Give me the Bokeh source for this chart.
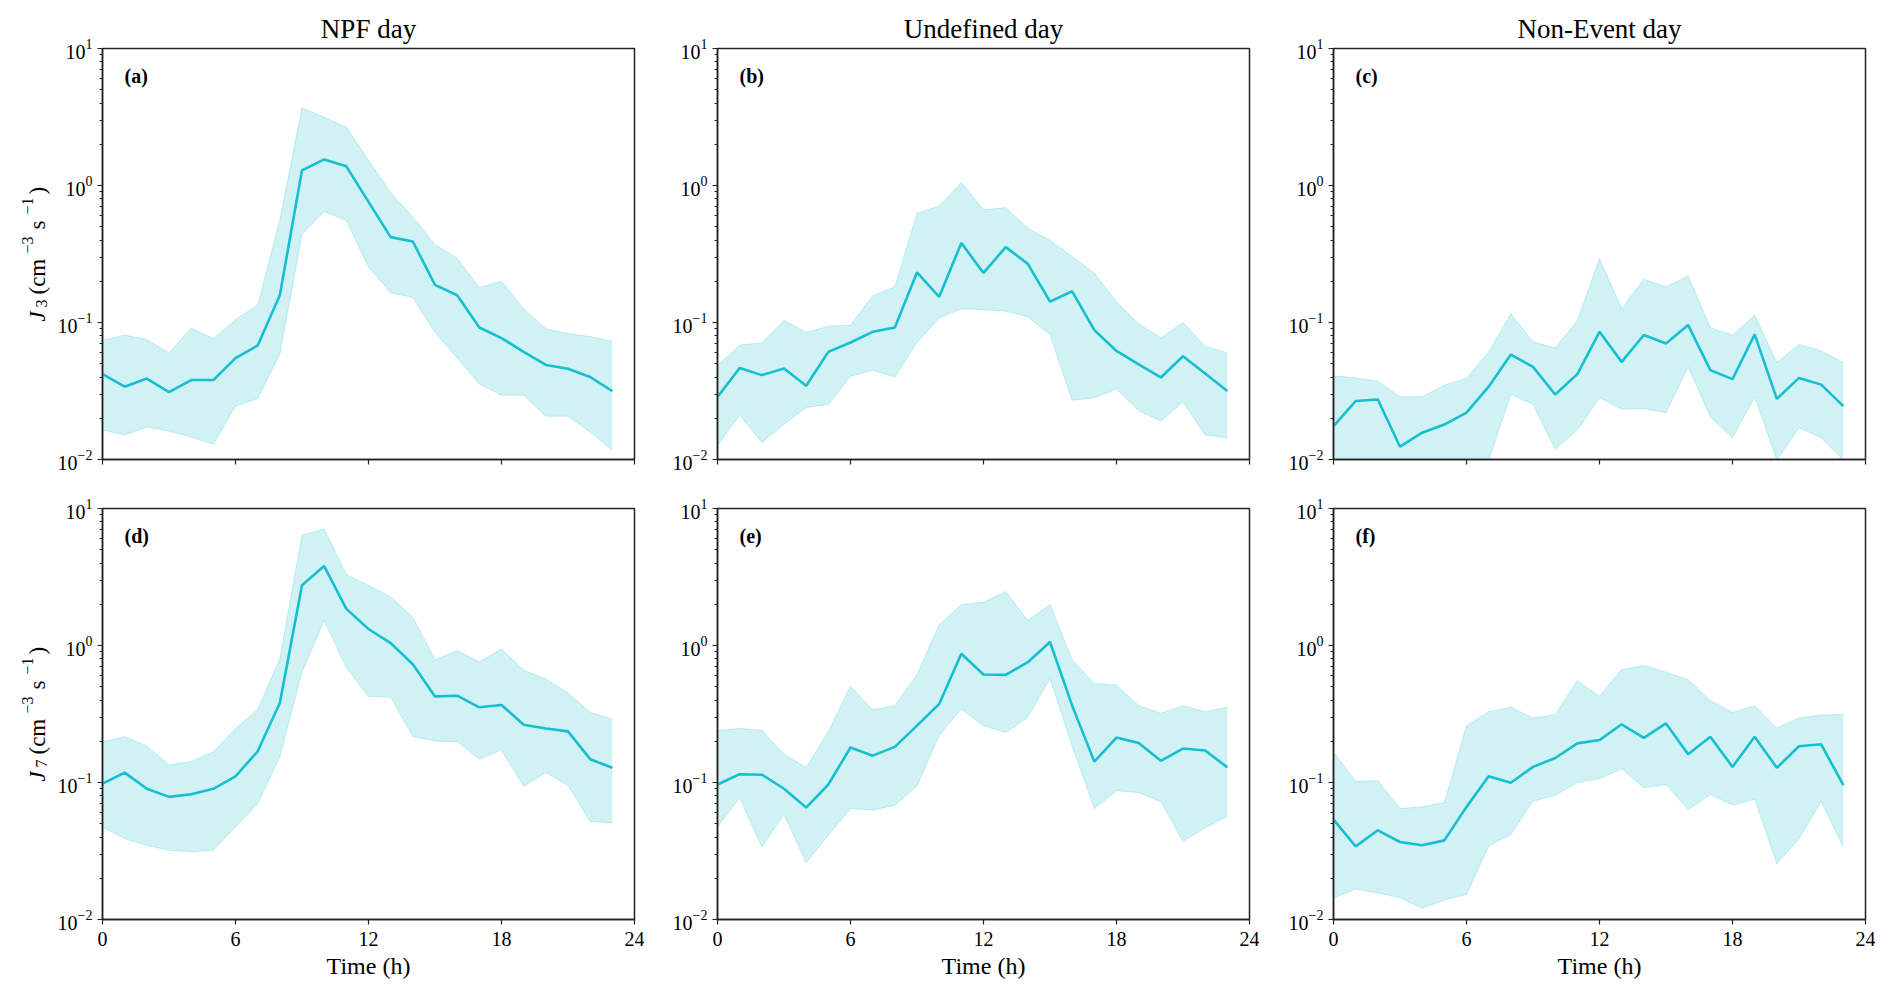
import math
from bokeh.plotting import figure
from bokeh.layouts import column, row
from bokeh.models import LogTicker, FixedTicker, Label, Range1d, ColumnDataSource
from bokeh.embed import file_html
from bokeh.resources import INLINE

hours = list(range(24))
titles = ["NPF day", "Undefined day", "Non-Event day"]
panel_tags = ["(a)", "(b)", "(c)", "(d)", "(e)", "(f)"]
y_label_subscripts = ["3", "7"]
x_label = "Time (h)"
x_ticks = [0, 6, 12, 18, 24]

# J3 rows
j3_npf_mean = [0.042, 0.034, 0.039, 0.031, 0.038, 0.038, 0.055, 0.068, 0.158, 1.29, 1.55, 1.38,
               0.76, 0.42, 0.39, 0.188, 0.158, 0.092, 0.077, 0.061, 0.049, 0.046, 0.040, 0.0316]
j3_npf_upper = [0.074, 0.081, 0.075, 0.060, 0.091, 0.076, 0.105, 0.134, 0.56, 3.69, 3.15, 2.67,
                1.52, 0.89, 0.59, 0.37, 0.295, 0.18, 0.20, 0.126, 0.090, 0.083, 0.079, 0.073]
j3_npf_lower = [0.0164, 0.0151, 0.0173, 0.0161, 0.0146, 0.0129, 0.0245, 0.0279, 0.059, 0.44, 0.645, 0.556,
                0.254, 0.165, 0.152, 0.085, 0.055, 0.0355, 0.0295, 0.0295, 0.0207, 0.0207, 0.0159, 0.0117]

j3_und_mean = [0.0286, 0.0466, 0.0413, 0.0462, 0.0345, 0.061, 0.0715, 0.0855, 0.092, 0.232, 0.154, 0.38,
               0.23, 0.355, 0.268, 0.142, 0.169, 0.088, 0.062, 0.0494, 0.0397, 0.0567, 0.0425, 0.0316]
j3_und_upper = [0.0483, 0.0684, 0.071, 0.104, 0.0845, 0.094, 0.0955, 0.157, 0.182, 0.628, 0.71, 1.05,
                0.664, 0.69, 0.488, 0.397, 0.303, 0.23, 0.142, 0.098, 0.0773, 0.100, 0.0672, 0.060]
j3_und_lower = [0.0127, 0.0211, 0.0133, 0.0181, 0.024, 0.0252, 0.0406, 0.0449, 0.040, 0.0715, 0.108, 0.126,
                0.124, 0.121, 0.110, 0.081, 0.0271, 0.0282, 0.0326, 0.0227, 0.0191, 0.0263, 0.0151, 0.0144]

j3_non_mean = [0.0175, 0.0267, 0.0274, 0.0124, 0.0157, 0.018, 0.022, 0.034, 0.0583, 0.0474, 0.0298, 0.042,
               0.0855, 0.0516, 0.081, 0.0703, 0.0957, 0.0449, 0.0386, 0.082, 0.0277, 0.0394, 0.0352, 0.0245]
j3_non_upper = [0.0408, 0.0394, 0.0373, 0.0287, 0.0287, 0.0349, 0.039, 0.061, 0.116, 0.0723, 0.0653, 0.103,
                0.293, 0.126, 0.207, 0.182, 0.219, 0.0914, 0.081, 0.113, 0.0508, 0.0695, 0.062, 0.051]
j3_non_lower = [0.008, 0.008, 0.008, 0.008, 0.008, 0.008, 0.008, 0.0098, 0.0298, 0.0253, 0.0119, 0.0164,
                0.0282, 0.0233, 0.0235, 0.0219, 0.0474, 0.0205, 0.0144, 0.0286, 0.0099, 0.0171, 0.0144, 0.0099]

# J7 rows
j7_npf_mean = [0.098, 0.118, 0.090, 0.0785, 0.082, 0.090, 0.111, 0.169, 0.38, 2.75, 3.8, 1.85,
               1.32, 1.04, 0.73, 0.425, 0.43, 0.354, 0.368, 0.264, 0.248, 0.236, 0.148, 0.128]
j7_npf_upper = [0.198, 0.216, 0.185, 0.135, 0.142, 0.168, 0.248, 0.34, 0.80, 6.4, 7.1, 3.29,
                2.75, 2.26, 1.61, 0.785, 0.92, 0.76, 0.945, 0.66, 0.57, 0.45, 0.325, 0.29]
j7_npf_lower = [0.0474, 0.0389, 0.0348, 0.032, 0.0311, 0.032, 0.0474, 0.070, 0.154, 0.64, 1.52, 0.69,
                0.425, 0.42, 0.217, 0.20, 0.199, 0.148, 0.172, 0.094, 0.118, 0.095, 0.052, 0.0507]

j7_und_mean = [0.0967, 0.115, 0.114, 0.090, 0.0656, 0.0967, 0.18, 0.157, 0.182, 0.26, 0.374, 0.87,
               0.614, 0.61, 0.755, 1.06, 0.364, 0.142, 0.213, 0.194, 0.144, 0.177, 0.171, 0.129]
j7_und_upper = [0.239, 0.248, 0.241, 0.161, 0.129, 0.236, 0.504, 0.34, 0.364, 0.614, 1.42, 1.99,
                2.07, 2.48, 1.52, 1.99, 0.785, 0.53, 0.515, 0.364, 0.32, 0.364, 0.329, 0.354]
j7_und_lower = [0.0474, 0.0773, 0.0338, 0.0586, 0.026, 0.0412, 0.0645, 0.0628, 0.0683, 0.0945, 0.22, 0.344,
                0.26, 0.232, 0.299, 0.577, 0.185, 0.0645, 0.0869, 0.0845, 0.0723, 0.0372, 0.0466, 0.0568]

j7_non_mean = [0.0536, 0.0342, 0.0448, 0.0368, 0.0348, 0.0378, 0.0664, 0.111, 0.0995, 0.130, 0.151, 0.193,
               0.204, 0.266, 0.212, 0.27, 0.161, 0.216, 0.130, 0.216, 0.128, 0.184, 0.19, 0.0955]
j7_non_upper = [0.168, 0.102, 0.103, 0.0645, 0.0664, 0.0715, 0.26, 0.329, 0.354, 0.296, 0.313, 0.554,
                0.426, 0.667, 0.714, 0.638, 0.564, 0.396, 0.325, 0.364, 0.25, 0.296, 0.311, 0.313]
j7_non_lower = [0.0143, 0.0167, 0.0156, 0.0144, 0.0121, 0.0139, 0.0152, 0.0344, 0.0417, 0.073, 0.0807, 0.0995,
                0.107, 0.126, 0.0914, 0.0967, 0.0634, 0.0816, 0.0683, 0.0755, 0.0255, 0.0389, 0.073, 0.0338]

panels = [
    (j3_npf_mean, j3_npf_lower, j3_npf_upper),
    (j3_und_mean, j3_und_lower, j3_und_upper),
    (j3_non_mean, j3_non_lower, j3_non_upper),
    (j7_npf_mean, j7_npf_lower, j7_npf_upper),
    (j7_und_mean, j7_und_lower, j7_und_upper),
    (j7_non_mean, j7_non_lower, j7_non_upper),
]

COLOR = "#17becf"
FONT = "Liberation Serif"
AXC = "#222222"
FRAME_W = 532
FRAME_H = 411
X_MIN, X_MAX = 0, 24
LOG_MIN, LOG_MAX = -2, 1
LABEL_W = 50
border_left = [102 - LABEL_W, 73, 74]
border_top = [48, 29]
border_bottom = [20, 70]


def px_to_x(px):
    return X_MIN + px * (X_MAX - X_MIN) / FRAME_W


def px_to_y(px):
    return 10 ** (LOG_MIN + px * (LOG_MAX - LOG_MIN) / FRAME_H)


def y_label_figure(r):
    # narrow strip (same vertical borders as the panels) holding the rotated label
    q = figure(frame_width=LABEL_W, frame_height=FRAME_H,
               x_range=Range1d(0, LABEL_W), y_range=Range1d(0, FRAME_H),
               output_backend="svg", toolbar_location=None, tools="",
               min_border_left=0, min_border_right=0,
               min_border_top=border_top[r], min_border_bottom=border_bottom[r],
               background_fill_color="white", border_fill_color="white")
    q.axis.visible = False
    q.grid.visible = False
    q.outline_line_color = None
    # (text, offset along label in px, size, style, baseline shift in px)
    pieces = [
        ("J", 0, "23px", "italic", 0),
        (y_label_subscripts[r], 14, "16px", "normal", 4),
        ("(cm", 27, "23px", "normal", 0),
        ("\u22123", 68, "16px", "normal", -10),
        ("s", 92, "23px", "normal", 0),
        ("\u22121", 107, "16px", "normal", -10),
        (")", 127, "23px", "normal", 0),
    ]
    total = 135
    start = FRAME_H / 2 - total / 2
    base_x = 37
    for text, off, size, style, shift in pieces:
        q.add_layout(Label(x=base_x + shift, y=start + off,
                           text=text, angle=math.pi / 2, text_font=FONT, text_font_size=size,
                           text_font_style=style, text_color="black",
                           text_align="left", text_baseline="alphabetic"))
    return q


figs = []
for i, (mean, lower, upper) in enumerate(panels):
    r, c = divmod(i, 3)
    p = figure(
        frame_width=FRAME_W, frame_height=FRAME_H,
        y_axis_type="log",
        x_range=Range1d(X_MIN, X_MAX), y_range=Range1d(10 ** LOG_MIN, 10 ** LOG_MAX),
        output_backend="svg", toolbar_location=None, tools="",
        min_border_left=border_left[c], min_border_right=10,
        min_border_top=border_top[r], min_border_bottom=border_bottom[r],
        background_fill_color="white", border_fill_color="white",
    )
    src = ColumnDataSource(dict(h=hours, mean=mean, lo=lower, hi=upper))
    p.varea(x="h", y1="lo", y2="hi", source=src, fill_color=COLOR, fill_alpha=0.2)
    p.line(x="h", y="hi", source=src, line_color=COLOR, line_alpha=0.22, line_width=1)
    p.line(x="h", y="lo", source=src, line_color=COLOR, line_alpha=0.22, line_width=1)
    p.line(x="h", y="mean", source=src, line_color=COLOR, line_width=2.6)

    p.grid.visible = False
    p.outline_line_color = AXC
    p.outline_line_width = 1.5
    p.outline_line_alpha = 1

    # x axis
    xa = p.xaxis[0]
    xa.ticker = FixedTicker(ticks=x_ticks)
    xa.minor_tick_line_color = None
    xa.major_tick_in = 0
    xa.major_tick_out = 5
    xa.axis_line_color = AXC
    xa.axis_line_width = 1.5
    xa.major_tick_line_color = AXC
    xa.major_tick_line_width = 1.2
    xa.major_label_text_font = FONT
    xa.major_label_text_font_size = "20px"
    xa.major_label_text_color = "black"
    xa.major_label_standoff = 7
    if r == 0:
        xa.major_label_overrides = {t: "" for t in x_ticks}
    else:
        xa.axis_label = x_label
        xa.axis_label_text_font = FONT
        xa.axis_label_text_font_size = "24px"
        xa.axis_label_text_font_style = "normal"
        xa.axis_label_text_color = "black"
        xa.axis_label_standoff = 4

    # y axis
    ya = p.yaxis[0]
    ya.ticker = LogTicker(num_minor_ticks=10)
    ya.major_tick_in = 0
    ya.major_tick_out = 5
    ya.minor_tick_in = 0
    ya.minor_tick_out = 3
    ya.axis_line_color = AXC
    ya.axis_line_width = 1.5
    ya.major_tick_line_color = AXC
    ya.major_tick_line_width = 1.2
    ya.minor_tick_line_color = AXC
    ya.minor_tick_line_width = 1
    ya.major_label_text_font = FONT
    ya.major_label_text_font_size = "20px"
    ya.major_label_text_color = "black"
    ya.major_label_standoff = 5

    if r == 0:
        p.title.text = titles[c]
        p.title.align = "center"
        p.title.text_font = FONT
        p.title.text_font_size = "27px"
        p.title.text_font_style = "normal"
        p.title.text_color = "black"

    p.add_layout(Label(x=px_to_x(22), y=px_to_y(FRAME_H - 27), text=panel_tags[i], text_font=FONT,
                       text_font_size="20px", text_font_style="bold", text_color="black",
                       text_align="left", text_baseline="middle"))
    figs.append(p)

layout = column(row(y_label_figure(0), *figs[:3]), row(y_label_figure(1), *figs[3:]))
open("out.html", "w").write(file_html(layout, INLINE))
